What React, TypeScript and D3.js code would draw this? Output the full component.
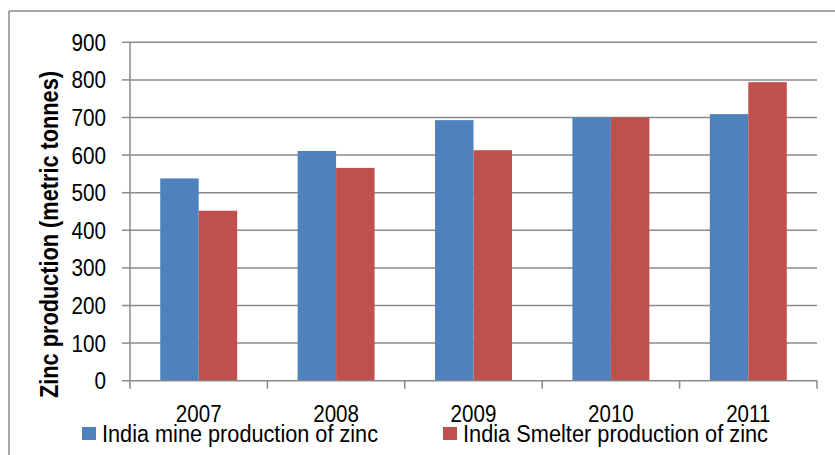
import React from "react";
import * as d3 from "d3";

const years = ["2007", "2008", "2009", "2010", "2011"];
const seriesNames = ["India mine production of zinc", "India Smelter production of zinc"];
const mineProduction = [538, 611, 693, 700, 709];
const smelterProduction = [452, 566, 613, 700, 794];
const yTicks = [0, 100, 200, 300, 400, 500, 600, 700, 800, 900];
const seriesColors = ["#4F81BD", "#C0504D"];

const W = 835;
const H = 455;
const plot = { left: 130, right: 817, top: 42.3, bottom: 380.7 };
const gridColor = "#8a8a8a";
const font = "'Liberation Sans', Arial, sans-serif";

export default function App() {
  const x0 = d3.scaleBand<string>().domain(years).range([plot.left, plot.right]).padding(0);
  const bw = x0.bandwidth();
  const groupW = bw * 0.56;
  const x1 = d3
    .scaleBand<number>()
    .domain([0, 1])
    .range([(bw - groupW) / 2, (bw + groupW) / 2])
    .padding(0);
  const y = d3.scaleLinear().domain([0, 900]).range([plot.bottom, plot.top]);

  const series = [mineProduction, smelterProduction];
  const boundaries = years.map((yr) => x0(yr)!).concat([plot.right]);

  return (
    <svg
      width={W}
      height={H}
      style={{ position: "absolute", left: 0, top: 0, background: "#fff" }}
      fontFamily={font}
    >
      <rect x={0} y={0} width={W} height={H} fill="#fff" />
      {/* chart area frame */}
      <line x1={9} y1={11} x2={W} y2={11} stroke={gridColor} strokeWidth={1.5} />
      <line x1={9} y1={11} x2={9} y2={H} stroke={gridColor} strokeWidth={1.5} />

      {/* horizontal gridlines and y ticks */}
      {yTicks.map((t) => (
        <g key={t}>
          {t > 0 && (
            <line x1={plot.left} x2={plot.right} y1={y(t)} y2={y(t)} stroke={gridColor} strokeWidth={1.5} />
          )}
          <line x1={plot.left - 8} x2={plot.left} y1={y(t)} y2={y(t)} stroke={gridColor} strokeWidth={1.5} />
          <text
            transform={`translate(106,${y(t) + 8.5}) scale(0.9,1)`}
            textAnchor="end"
            fontSize={23}
            fill="#000"
          >
            {t}
          </text>
        </g>
      ))}

      {/* bars */}
      {series.map((vals, si) =>
        vals.map((v, i) => (
          <rect
            key={`${si}-${i}`}
            x={x0(years[i])! + x1(si)!}
            y={y(v)}
            width={x1.bandwidth()}
            height={y(0) - y(v)}
            fill={seriesColors[si]}
          />
        ))
      )}

      {/* axes */}
      <line x1={plot.left} x2={plot.left} y1={plot.top} y2={plot.bottom} stroke={gridColor} strokeWidth={1.5} />
      <line x1={plot.left} x2={plot.right} y1={plot.bottom} y2={plot.bottom} stroke={gridColor} strokeWidth={1.5} />
      {boundaries.map((bx, i) => (
        <line key={i} x1={bx} x2={bx} y1={plot.bottom} y2={plot.bottom + 8} stroke={gridColor} strokeWidth={1.5} />
      ))}
      {years.map((yr) => (
        <text
          key={yr}
          transform={`translate(${x0(yr)! + bw / 2},421.5) scale(0.84,1)`}
          textAnchor="middle"
          fontSize={24.5}
          fill="#000"
        >
          {yr}
        </text>
      ))}

      {/* y axis title */}
      <text
        transform="translate(58,234.5) rotate(-90)"
        textAnchor="middle"
        fontSize={25}
        fontWeight="bold"
        textLength={327}
        lengthAdjust="spacingAndGlyphs"
        fill="#000"
      >
        Zinc production (metric tonnes)
      </text>

      {/* legend */}
      <rect x={82} y={427} width={14} height={13} fill={seriesColors[0]} />
      <text x={102} y={441.5} fontSize={23} textLength={276} lengthAdjust="spacingAndGlyphs" fill="#000">
        {seriesNames[0]}
      </text>
      <rect x={443} y={427} width={14} height={13} fill={seriesColors[1]} />
      <text x={463} y={441.5} fontSize={23} textLength={305} lengthAdjust="spacingAndGlyphs" fill="#000">
        {seriesNames[1]}
      </text>
    </svg>
  );
}
